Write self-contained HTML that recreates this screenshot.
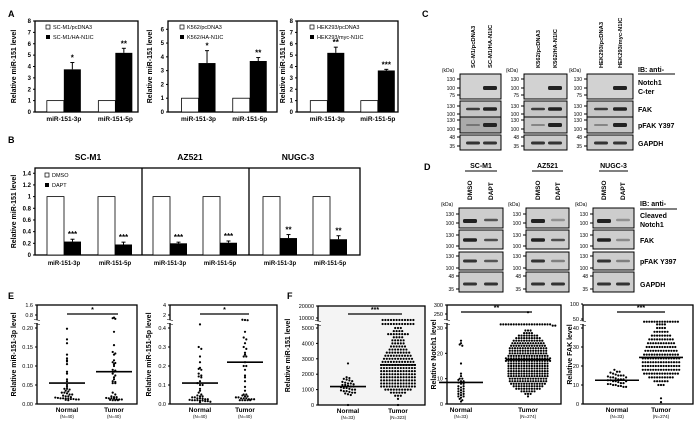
<!DOCTYPE html>
<html><head><meta charset="utf-8"><style>
html,body{margin:0;padding:0;background:#fff;}
svg{display:block;font-family:"Liberation Sans",Arial,sans-serif;}
text{font-family:"Liberation Sans",Arial,sans-serif;}
</style></head><body>
<svg id="fig" width="700" height="426" viewBox="0 0 700 426" xmlns="http://www.w3.org/2000/svg"></svg>
<script>
// ===== Panel A data =====
const aCategories = ['miR-151-3p','miR-151-5p'];
const a1Treated = [3.75, 5.2];
const a1Err = [0.6, 0.4];
const a1Sig = ['*','**'];
const a1Ticks = [0,1,2,3,4,5,6,7,8];
const a2Treated = [3.55, 3.7];
const a2Err = [0.9, 0.25];
const a2Sig = ['*','**'];
const a2Ticks = [0,1,2,3,4,5,6];
const a3Treated = [5.2, 3.65];
const a3Err = [0.5, 0.1];
const a3Sig = ['**','***'];
const a3Ticks = [0,1,2,3,4,5,6,7,8];
const aControl = [1, 1];
// ===== Panel B data =====
const bCells = ['SC-M1','AZ521','NUGC-3'];
const bDmso = [1,1,1,1,1,1];
const bDapt = [0.23,0.18,0.20,0.21,0.29,0.27];
const bErr = [0.04,0.04,0.02,0.03,0.06,0.06];
const bSig = ['***','***','***','***','**','**'];
const bTicks = [0,0.2,0.4,0.6,0.8,1,1.2,1.4];
const bTickLabels = ['0','0.2','0.4','0.6','0.8','1','1.2','1.4'];
// ===== Panel E data =====
const e1Normal = [0.198,0.17,0.16,0.13,0.12,0.115,0.112,0.105,0.085,0.08,0.065,0.06,0.05,0.045,0.04,0.04,0.038,0.035,0.033,0.03,0.03,0.028,0.025,0.025,0.022,0.02,0.02,0.018,0.017,0.016,0.015,0.015,0.014,0.014,0.013,0.013,0.012,0.012,0.011,0.01];
const e1Tumor = [0.6,0.55,0.5,0.19,0.155,0.137,0.133,0.13,0.115,0.11,0.108,0.105,0.1,0.09,0.088,0.085,0.08,0.075,0.07,0.065,0.06,0.058,0.055,0.055,0.03,0.025,0.02,0.018,0.018,0.016,0.015,0.015,0.014,0.013,0.012,0.012,0.011,0.01,0.01,0.01];
const e1Medians = [0.055, 0.085];
const e1Ticks = [0,0.05,0.10,0.15,0.20,0.8,1.6];
const e1TickLabels = ['0.00','0.05','0.10','0.15','0.20','0.8','1.6'];
const e2Normal = [0.43,0.3,0.29,0.25,0.22,0.19,0.185,0.18,0.16,0.15,0.145,0.14,0.12,0.11,0.1,0.1,0.08,0.07,0.06,0.05,0.045,0.04,0.04,0.035,0.035,0.03,0.03,0.028,0.025,0.025,0.022,0.02,0.02,0.02,0.018,0.018,0.015,0.015,0.012,0.01];
const e2Tumor = [0.95,0.9,0.85,0.38,0.35,0.34,0.32,0.3,0.29,0.27,0.26,0.25,0.25,0.22,0.2,0.2,0.18,0.15,0.14,0.12,0.09,0.07,0.05,0.05,0.045,0.04,0.04,0.035,0.035,0.03,0.03,0.03,0.025,0.025,0.025,0.02,0.02,0.02,0.02,0.02];
const e2Medians = [0.11, 0.22];
const e2Ticks = [0,0.1,0.2,0.3,0.4,2,4];
const e2TickLabels = ['0.0','0.1','0.2','0.3','0.4','2','4'];
// ===== Panel F data =====
const f1Normal = [2700,1800,1750,1700,1650,1600,1550,1500,1450,1400,1400,1350,1300,1300,1250,1200,1200,1150,1100,1100,1050,1000,1000,950,900,900,850,800,800,750,700,650,0];
const f1TumorLevels = [9000,7000,5000,4800,4600,4400,4200,4000,3800,3600,3400,3200,3000,2800,2600,2400,2200,2000,1800,1600,1400,1200,1000,800,600,400,0];
const f1TumorCounts = [12,12,3,4,8,4,5,5,6,7,9,10,11,12,13,13,13,13,13,13,13,13,10,6,3,1,1];
const f1Medians = [1200, 2600];
const f1Ticks = [0,1000,2000,3000,4000,5000,10000,20000];
const f1TickLabels = ['0','1000','2000','3000','4000','5000','10000','20000'];
const f2Normal = [25,24,23.5,23,16,12,11,10,9.5,9,8.5,8,7,6.5,6,5.5,5,4.5,4,3.5,3,2.5,2,1.5,1,9,8,7,6,5,4,10,3];
const f2TumorLevels = [260,33,32,29,28,27,26,25,24,23,22,21,20,19,18,17,16,15,14,13,12,11,10,9,8,7,6,5,4,3];
const f2TumorCounts = [1,20,2,3,4,8,10,12,13,14,15,15,15,16,18,18,16,16,16,16,16,16,15,15,14,12,10,6,3,1];
const f2Medians = [8.5, 17.5];
const f2Ticks = [0,10,20,30,250,300];
const f2TickLabels = ['0','10','20','30','250','300'];
const f3Normal = [18,17,17,16.5,16,15.5,15,15,14.5,14,14,13.5,13,13,12.5,12.5,12,12,11.5,11,11,10.5,10.5,10,10,9.5,9.5,9,9,12,13,14,15];
const f3TumorLevels = [47,44,40,38,36,34,32,30,28,26,24,22,20,18,16,14,12,10,3,1];
const f3TumorCounts = [14,4,4,6,8,10,11,12,13,14,15,15,15,15,14,10,6,3,1,1];
const f3Medians = [12.5, 24.5];
const f3Ticks = [0,10,20,30,40,50,100];
const f3TickLabels = ['0','10','20','30','40','50','100'];

const NS='http://www.w3.org/2000/svg';
const svg=document.getElementById('fig');
function mk(tag,attrs,name,parent){
  const e=document.createElementNS(NS,tag);
  for(const k in attrs) e.setAttribute(k,attrs[k]);
  
  
  (parent||svg).appendChild(e);
  return e;
}
function tx(x,y,s,size,name,opt){
  opt=opt||{};
  const e=mk('text',{x:x,y:y,'font-size':size,'font-weight':opt.w||'bold','text-anchor':opt.a||'middle',fill:opt.fill||'#000'},name);
  if(opt.rot!==undefined) e.setAttribute('transform','rotate('+opt.rot+' '+x+' '+y+')');
  e.textContent=s;
  return e;
}
function line(x1,y1,x2,y2,name,sw){return mk('line',{x1:x1,y1:y1,x2:x2,y2:y2,stroke:'#000','stroke-width':sw||1},name);}

// panel letters
[['A',8,17],['B',8,143],['C',422,17],['D',424,170],['E',8,299],['F',287,299]].forEach(p=>{
  tx(p[1],p[2],p[0],9,'panel-label-'+p[0].toLowerCase(),{a:'start'});
});

// ===== Bar chart helper =====
function barChart(c){
  const yS=v=>c.bot-(v/c.ymax)*(c.bot-c.top);
  mk('rect',{x:c.L,y:c.top,width:c.R-c.L,height:c.bot-c.top,fill:'none',stroke:'#000','stroke-width':1.3},c.id+'-plot-frame');
  c.ticks.forEach((t,i)=>{
    const y=yS(t);
    line(c.L-2,y,c.L,y,c.id+'-y-tick');
    tx(c.L-4,y+2,c.tickLabels?c.tickLabels[i]:String(t),6,c.id+'-y-tick-label',{a:'end'});
  });
  tx(c.yTitleX,(c.top+c.bot)/2,'Relative miR-151 level',7,c.id+'-y-axis-title',{rot:-90});
  const W=c.R-c.L;
  c.ctrl.forEach((v,i)=>{
    const bx=c.bnd?c.bnd[i]:c.L+W*c.frac[i];
    const y1=yS(v), y2=yS(c.treat[i]);
    mk('rect',{x:bx-c.bw,y:y1,width:c.bw,height:c.bot-y1,fill:'#fff',stroke:'#000','stroke-width':0.8},c.id+'-bar-control-'+i);
    const ye=yS(c.treat[i]+c.err[i]);
    line(bx+c.bw/2,ye,bx+c.bw/2,y2,c.id+'-error-bar-'+i);
    line(bx+c.bw/2-2,ye,bx+c.bw/2+2,ye,c.id+'-error-cap-'+i);
    mk('rect',{x:bx,y:y2,width:c.bw,height:c.bot-y2,fill:'#000'},c.id+'-bar-treated-'+i);
    tx(bx+c.bw/2,ye-2,c.sig[i],8,c.id+'-significance-'+i);
    if(c.cats) tx(bx,c.bot+9,c.cats[i],6.5,c.id+'-x-label-'+i);
  });
}
function legend(x,y,l1,l2,id){
  mk('rect',{x:x,y:y-4,width:4,height:4,fill:'#fff',stroke:'#000','stroke-width':0.7},id+'-legend-swatch-1');
  tx(x+7,y,l1,5.5,id+'-legend-entry-1',{a:'start',w:'normal'});
  mk('rect',{x:x,y:y+6,width:4,height:4,fill:'#000'},id+'-legend-swatch-2');
  tx(x+7,y+10,l2,5.5,id+'-legend-entry-2',{a:'start',w:'normal'});
}
barChart({id:'a1',L:35,R:138,top:21,bot:112,ymax:8,ticks:a1Ticks,yTitleX:16,frac:[0.28,0.78],bw:17,ctrl:aControl,treat:a1Treated,err:a1Err,sig:a1Sig,cats:aCategories});
legend(46,29,'SC-M1/pcDNA3','SC-M1/HA-N1IC','a1');
barChart({id:'a2',L:168,R:277,top:21,bot:112,ymax:6.6,ticks:a2Ticks,yTitleX:152,frac:[0.28,0.75],bw:17,ctrl:aControl,treat:a2Treated,err:a2Err,sig:a2Sig,cats:aCategories});
legend(180,29,'K562/pcDNA3','K562/HA-N1IC','a2');
barChart({id:'a3',L:297,R:398,top:21,bot:112,ymax:8,ticks:a3Ticks,yTitleX:285,frac:[0.30,0.80],bw:17,ctrl:aControl,treat:a3Treated,err:a3Err,sig:a3Sig,cats:aCategories});
legend(310,29,'HEK293/pcDNA3','HEK293/myc-N1IC','a3');

// ===== Panel B =====
barChart({id:'b',L:35,R:360,top:168,bot:255,ymax:1.49,ticks:bTicks,tickLabels:bTickLabels,yTitleX:16,bnd:[64,115,170,220,280,330],bw:17,ctrl:bDmso,treat:bDapt,err:bErr,sig:bSig});
[142,249].forEach((x,i)=>line(x,168,x,255,'b-divider-'+i,1.3));
const bTitleX=[88,190,298];
bCells.forEach((n,i)=>tx(bTitleX[i],160,n,8.5,'b-title-'+n.toLowerCase()));
[64,115,170,220,280,330].forEach((x,i)=>tx(x,265,aCategories[i%2],6,'b-x-label-'+i));
legend(45,177,'DMSO','DAPT','b');

// ===== Blots =====
function blotRow(x1,x2,y1,y2,fill,bands,name){
  const g=mk('g',{},name);
  mk('rect',{x:x1,y:y1,width:x2-x1,height:y2-y1,fill:fill,stroke:'#000','stroke-width':1},name+'-frame',g);
  bands.forEach((b,i)=>{
    mk('rect',{x:b[0]-7,y:b[1]-b[2]/2,width:14,height:b[2],rx:1.5,fill:'#222','fill-opacity':b[3]},name+'-band-'+i,g);
  });
}
// Panel C
const cBoxes=[[460,501,473,490],[524,567,538,555],[587,633,601,620]];
const cLabels=[['SC-M1/pcDNA3','SC-M1/HA-N1IC'],['K562/pcDNA3','K562/HA-N1IC'],['HEK293/pcDNA3','HEK293/myc-N1IC']];
cBoxes.forEach((b,i)=>{
  const [x1,x2,l1,l2]=b;
  blotRow(x1,x2,74,99,'#d2d2d2',[[l2,88,4,1]],'c-blot-notch1-'+i);
  blotRow(x1,x2,101,117,'#c6c6c6',[[l1,109,2.5,0.85],[l2,109,3.5,1]],'c-blot-fak-'+i);
  blotRow(x1,x2,117,133,i==0?'#aaaaaa':'#c6c6c6',[[l1,125,2,0.4],[l2,125,4,1]],'c-blot-pfak-'+i);
  blotRow(x1,x2,135,150,'#cacaca',[[l1,143,3,0.9],[l2,143,3,0.9]],'c-blot-gapdh-'+i);
  tx(x1-12,72,'(kDa)',5,'c-kda-unit-'+i,{w:'normal'});
  [['130',79],['100',88],['75',95],['130',106],['100',114],['130',120],['100',129],['48',137],['35',146]].forEach((k,j)=>{
    line(x1-3,k[1],x1,k[1],'c-kda-tick');
    tx(x1-5,k[1]+2,k[0],5,'c-kda-label',{a:'end',w:'normal'});
  });
  tx(l1+2,68,cLabels[i][0],5.8,'c-lane-label',{a:'start',rot:-90});
  tx(l2+2,68,cLabels[i][1],5.8,'c-lane-label',{a:'start',rot:-90});
});
tx(638,72,'IB: anti-',7,'c-ib-label',{a:'start'});
line(638,74,675,74,'c-ib-underline');
tx(638,85,'Notch1',7,'c-label-notch1',{a:'start'});
tx(638,94,'C-ter',7,'c-label-cter',{a:'start'});
tx(638,112,'FAK',7,'c-label-fak',{a:'start'});
tx(638,128,'pFAK Y397',7,'c-label-pfak',{a:'start'});
tx(638,146,'GAPDH',7,'c-label-gapdh',{a:'start'});
// Panel D
const dBoxes=[[459,503,470,491,'SC-M1'],[526,569,538,558,'AZ521'],[593,634,604,623,'NUGC-3']];
dBoxes.forEach((b,i)=>{
  const [x1,x2,l1,l2,n]=b;
  tx((x1+x2)/2,168,n,7,'d-title-'+i);
  line(x1+6,171,x2-6,171,'d-title-underline-'+i);
  tx(l1+2,200,'DMSO',6.5,'d-lane-label',{a:'start',rot:-90});
  tx(l2+2,200,'DAPT',6.5,'d-lane-label',{a:'start',rot:-90});
  blotRow(x1,x2,208,228,'#cdcdcd',[[l1,221,4,1],[l2,220,2.5,i==0?0.7:0.35]],'d-blot-cleaved-'+i);
  blotRow(x1,x2,230,249,'#cdcdcd',[[l1,240,3.5,1],[l2,240,2.5,i==2?0.4:0.75]],'d-blot-fak-'+i);
  blotRow(x1,x2,252,270,'#cdcdcd',[[l1,261,3,0.9],[l2,261,2.5,i==0?0.7:0.45]],'d-blot-pfak-'+i);
  blotRow(x1,x2,272,292,'#cdcdcd',[[l1,284,3,0.9],[l2,284,3,0.9]],'d-blot-gapdh-'+i);
  tx(x1-12,206,'(kDa)',5,'d-kda-unit-'+i,{w:'normal'});
  [['130',214],['100',223],['130',235],['100',246],['130',256],['100',268],['48',276],['35',289]].forEach(k=>{
    line(x1-3,k[1],x1,k[1],'d-kda-tick');
    tx(x1-5,k[1]+2,k[0],5,'d-kda-label',{a:'end',w:'normal'});
  });
});
tx(640,206,'IB: anti-',7,'d-ib-label',{a:'start'});
line(640,209,677,209,'d-ib-underline');
tx(640,218,'Cleaved',7,'d-label-cleaved',{a:'start'});
tx(640,227,'Notch1',7,'d-label-notch1',{a:'start'});
tx(640,243,'FAK',7,'d-label-fak',{a:'start'});
tx(640,264,'pFAK Y397',7,'d-label-pfak',{a:'start'});
tx(640,287,'GAPDH',7,'d-label-gapdh',{a:'start'});

// ===== Dot plots =====
function pw(anch,v){
  for(let i=0;i<anch.length-1;i++){
    const a=anch[i],b=anch[i+1];
    if(v<=b[0]||i==anch.length-2) return a[1]+(v-a[0])/(b[0]-a[0])*(b[1]-a[1]);
  }
}
function swarm(vals,counts,cx,yf,id,sp,rowH){
  const rows={};
  vals.forEach((v,i)=>{
    const n=counts?counts[i]:1;
    for(let k=0;k<n;k++){
      const y=yf(v);
      const key=Math.round(y/rowH);
      rows[key]=rows[key]||[];
      rows[key].push(y);
    }
  });
  for(const key in rows){
    const arr=rows[key];
    arr.forEach((y,j)=>{
      const off=(j-(arr.length-1)/2)*sp;
      const d=mk('circle',{cx:cx+off,cy:y,r:1.1,fill:'#000'},id+'-dot');
    });
  }
}
function dotPlot(c){
  const yf=v=>pw(c.anch,v);
  if(c.bg) mk('rect',{x:c.L,y:c.top,width:c.R-c.L,height:c.bot-c.top,fill:c.bg},c.id+'-plot-background');
  mk('rect',{x:c.L,y:c.top,width:c.R-c.L,height:c.bot-c.top,fill:'none',stroke:'#000','stroke-width':1.3},c.id+'-plot-frame');
  mk('rect',{x:c.L-3,y:c.brk-2,width:6,height:3,fill:'#fff'},c.id+'-axis-break');
  line(c.L-3,c.brk-2.5,c.L+3,c.brk-1.5,c.id+'-break-mark',0.6);
  line(c.L-3,c.brk+1.5,c.L+3,c.brk+2.5,c.id+'-break-mark',0.6);
  c.ticks.forEach((t,i)=>{
    const y=yf(t);
    line(c.L-2,y,c.L,y,c.id+'-y-tick');
    tx(c.L-4,y+2,c.tickLabels[i],5.5,c.id+'-y-tick-label',{a:'end',w:'normal'});
  });
  tx(c.yTitleX,(c.top+c.bot)/2,c.title,7,c.id+'-y-axis-title',{rot:-90});
  c.groups.forEach((g,i)=>{
    swarm(g.vals,g.counts,c.cx[i],yf,c.id+'-'+g.name,c.sp,c.rowH);
    const my=yf(c.medians[i]);
    line(c.cx[i]-c.mw,my,c.cx[i]+c.mw,my,c.id+'-median-'+g.name,1.6);
    tx(c.cx[i],c.bot+8,g.label,6.5,c.id+'-x-label-'+g.name);
    tx(c.cx[i],c.bot+14,g.n,4.5,c.id+'-n-label-'+g.name,{w:'normal'});
  });
  line(c.cx[0],c.sigY,c.cx[1]+4,c.sigY,c.id+'-significance-line',1.2);
  tx((c.cx[0]+c.cx[1])/2+2,c.sigY-2,c.sig,7,c.id+'-significance');
}
dotPlot({id:'e1',L:37,R:137,top:305,bot:404,brk:322,anch:[[0,404],[0.2,328],[0.25,322],[0.8,315],[1.6,305]],ticks:e1Ticks,tickLabels:e1TickLabels,
  title:'Relative miR-151-3p level',yTitleX:16,cx:[67,114],sp:2.6,rowH:2.4,mw:18,medians:e1Medians,sigY:314,sig:'*',
  groups:[{name:'normal',vals:e1Normal,label:'Normal',n:'(N=40)'},{name:'tumor',vals:e1Tumor,label:'Tumor',n:'(N=40)'}]});
dotPlot({id:'e2',L:170,R:277,top:305,bot:404,brk:322,anch:[[0,404],[0.4,328],[0.45,322],[2,315],[4,305]],ticks:e2Ticks,tickLabels:e2TickLabels,
  title:'Relative miR-151-5p level',yTitleX:151,cx:[200,245],sp:2.6,rowH:2.4,mw:18,medians:e2Medians,sigY:314,sig:'*',
  groups:[{name:'normal',vals:e2Normal,label:'Normal',n:'(N=40)'},{name:'tumor',vals:e2Tumor,label:'Tumor',n:'(N=40)'}]});
dotPlot({id:'f1',L:318,R:425,top:306,bot:405,brk:323,bg:'#f4f4f4',anch:[[0,405],[5000,328],[10000,318],[20000,306]],ticks:f1Ticks,tickLabels:f1TickLabels,
  title:'Relative miR-151 level',yTitleX:290,cx:[348,398],sp:2.8,rowH:2.9,mw:18,medians:f1Medians,sigY:314,sig:'***',
  groups:[{name:'normal',vals:f1Normal,label:'Normal',n:'(N=33)'},{name:'tumor',vals:f1TumorLevels,counts:f1TumorCounts,label:'Tumor',n:'(N=323)'}]});
dotPlot({id:'f2',L:447,R:561,top:305,bot:404,brk:322,anch:[[0,404],[30,328],[35,322],[250,314],[300,305]],ticks:f2Ticks,tickLabels:f2TickLabels,
  title:'Relative Notch1 level',yTitleX:436,cx:[461,528],sp:2.6,rowH:2.5,mw:22,medians:f2Medians,sigY:312,sig:'**',
  groups:[{name:'normal',vals:f2Normal,label:'Normal',n:'(N=33)'},{name:'tumor',vals:f2TumorLevels,counts:f2TumorCounts,label:'Tumor',n:'(N=274)'}]});
dotPlot({id:'f3',L:583,R:693,top:305,bot:404,brk:323,anch:[[0,404],[40,328],[50,319],[100,304]],ticks:f3Ticks,tickLabels:f3TickLabels,
  title:'Relative FAK level',yTitleX:572,cx:[617,661],sp:2.6,rowH:3.6,mw:22,medians:f3Medians,sigY:312,sig:'***',
  groups:[{name:'normal',vals:f3Normal,label:'Normal',n:'(N=33)'},{name:'tumor',vals:f3TumorLevels,counts:f3TumorCounts,label:'Tumor',n:'(N=274)'}]});
</script>
</body></html>
